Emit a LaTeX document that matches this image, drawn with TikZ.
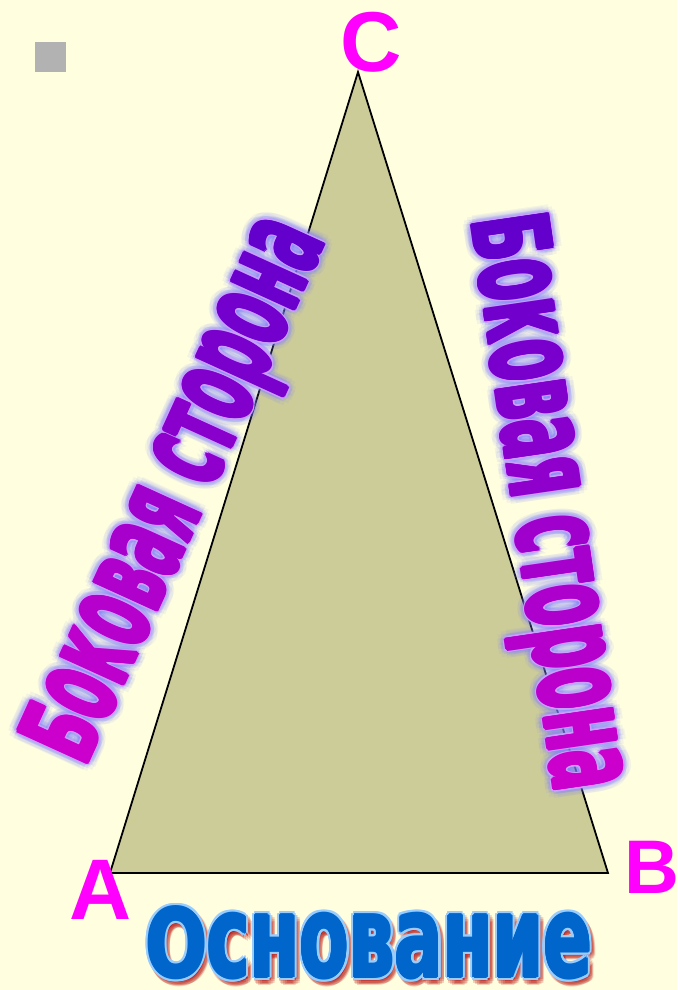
\documentclass[tikz,border=0pt]{standalone}
\usepackage{fontspec}
\setmainfont{DejaVu Sans}
\newfontfamily\labelfont{Liberation Sans}
\usepackage{xcolor}
\usepackage{graphicx}
\usepackage{tikz}
\usetikzlibrary{positioning}
\definecolor{paper}{HTML}{FFFFE0}
\definecolor{khaki}{HTML}{CCCC99}
\definecolor{markgray}{HTML}{B2B2B2}
\definecolor{vertexpink}{HTML}{FF00FF}
\definecolor{sideviolet}{HTML}{6300CC}
\definecolor{sidemagenta}{HTML}{CC00CC}
\definecolor{glowblue}{HTML}{7F7FFF}
\definecolor{rimlilac}{HTML}{C8A0FF}
\definecolor{baseblue}{HTML}{0066CC}
\definecolor{baserim}{HTML}{99CCFF}
\definecolor{baseshadow}{HTML}{B00000}

% letters of a side label, coloured from #1 to #2
\newcommand\sideword[2]{%
  \foreach \ch [count=\k] in {Б,о,к,о,в,а,я,\ ,с,т,о,р,о,н,а}{%
    \pgfmathtruncatemacro\pct{(\k-1)*100/14}%
    \textcolor{#2!\pct!#1}{\ifnum\k=1 \ch\else\scalebox{1}[1.2]{\ch}\fi}}}
\newcommand\sidebox[2]{\resizebox{580pt}{77pt}{\sideword{#1}{#2}}}
\newcommand\basebox{\resizebox{446pt}{70pt}{О\scalebox{1}[1.2]{снование}}}

\begin{document}
\begin{tikzpicture}[x=1pt, y=-1pt,
    vertex/.style={text=vertexpink, inner sep=0pt, anchor=base},
    sidetext/.style={inner sep=0pt, anchor=base, font=\bfseries},
    basetext/.style={inner sep=0pt, anchor=base, font=\bfseries}
  ]
  \useasboundingbox[fill=paper] (0,0) rectangle (677,990);

  % triangle
  \coordinate (A) at (110,873);
  \coordinate (B) at (608,873);
  \coordinate (C) at (358,72);
  \draw[fill=khaki, line width=1.8pt] (A) -- (B) -- (C) -- cycle;
  \fill[markgray] (35,42) rectangle (66,72);

  % vertex labels
  \node[vertex, font=\labelfont\bfseries\fontsize{86}{86}\selectfont] (labA) at (101,919) {A};
  \node[vertex, font=\labelfont\bfseries\fontsize{76}{76}\selectfont] (labB) at (652,893) {B};
  \node[vertex, font=\labelfont\bfseries\fontsize{85}{85}\selectfont] (labC) at (371,71) {C};

  % left side label
  \foreach \a in {0,30,...,330}{
    \node[sidetext, rotate=65.5, text opacity=0.09] (glowLa\a) at ({206+9*cos(\a)},{504+9*sin(\a)}) {\sidebox{glowblue}{glowblue}};
    \node[sidetext, rotate=65.5, text opacity=0.14] (glowLb\a) at ({206+5.5*cos(\a)},{504+5.5*sin(\a)}) {\sidebox{glowblue}{glowblue}};
  }
  \foreach \a in {0,45,...,315}
    \node[sidetext, rotate=65.5] (rimL\a) at ({206+3*cos(\a)},{504+3*sin(\a)}) {\sidebox{rimlilac}{rimlilac}};
  \foreach \a in {0,45,...,315}
    \node[sidetext, rotate=65.5] (boldL\a) at ({206+1.5*cos(\a)},{504+1.5*sin(\a)}) {\sidebox{sidemagenta}{sideviolet}};
  \node[sidetext, rotate=65.5] (sideL) at (206,504) {\sidebox{sidemagenta}{sideviolet}};

  % right side label
  \foreach \a in {0,30,...,330}{
    \node[sidetext, rotate=-81.7, text opacity=0.09] (glowRa\a) at ({513+9*cos(\a)},{507+9*sin(\a)}) {\sidebox{glowblue}{glowblue}};
    \node[sidetext, rotate=-81.7, text opacity=0.14] (glowRb\a) at ({513+5.5*cos(\a)},{507+5.5*sin(\a)}) {\sidebox{glowblue}{glowblue}};
  }
  \foreach \a in {0,45,...,315}
    \node[sidetext, rotate=-81.7] (rimR\a) at ({513+3*cos(\a)},{507+3*sin(\a)}) {\sidebox{rimlilac}{rimlilac}};
  \foreach \a in {0,45,...,315}
    \node[sidetext, rotate=-81.7] (boldR\a) at ({513+1.5*cos(\a)},{507+1.5*sin(\a)}) {\sidebox{sideviolet}{sidemagenta}};
  \node[sidetext, rotate=-81.7] (sideR) at (513,507) {\sidebox{sideviolet}{sidemagenta}};

  % base label
  \foreach \a in {0,30,...,330}
    \node[basetext, text=baseshadow, text opacity=0.18] (shadow\a) at ({372+4*cos(\a)},{981+4*sin(\a)}) {\basebox};
  \node[basetext, text=baseshadow, text opacity=0.5] (shadowcore) at (372,980) {\basebox};
  \foreach \a in {0,30,...,330}
    \node[basetext, text=baserim] (rim\a) at ({369+3.5*cos(\a)},{977+3.5*sin(\a)}) {\basebox};
  \foreach \a in {0,45,...,315}
    \node[basetext, text=baseblue] (bold\a) at ({369+1.3*cos(\a)},{977+1.3*sin(\a)}) {\basebox};
  \node[basetext, text=baseblue] (base) at (369,977) {\basebox};
\end{tikzpicture}
\end{document}
